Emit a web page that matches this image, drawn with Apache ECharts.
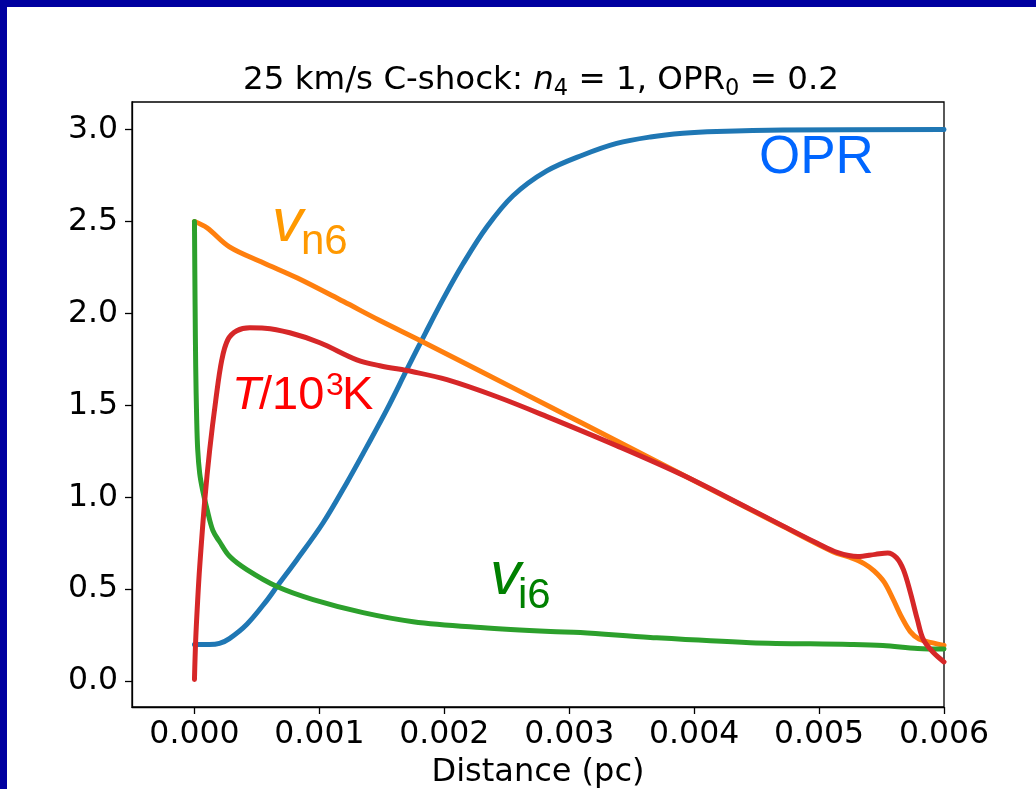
<!DOCTYPE html>
<html><head><meta charset="utf-8">
<script src="https://cdn.jsdelivr.net/npm/echarts@6/dist/echarts.min.js"></script>
<style>html,body{margin:0;padding:0;background:#fff}#c{width:1036px;height:789px}</style>
</head><body><div id="c"></div>
<script>
// ---- data (distance in pc) ----
const oprX = [0, 0.00012, 0.0002, 0.00028, 0.00042, 0.00058, 0.00066, 0.00082, 0.00103, 0.00122, 0.00138, 0.00154, 0.0017, 0.00185, 0.002, 0.00215, 0.00234, 0.00255, 0.00282, 0.00311, 0.00338, 0.00365, 0.00391, 0.00418, 0.00471, 0.006];
const oprY = [0.2, 0.2, 0.206, 0.232, 0.31, 0.44, 0.515, 0.661, 0.862, 1.08, 1.276, 1.477, 1.694, 1.895, 2.09, 2.27, 2.47, 2.64, 2.775, 2.862, 2.925, 2.96, 2.98, 2.99, 2.998, 3.0];

const vnX = [0, 0.0001, 0.00028, 0.00055, 0.00082, 0.00119, 0.00148, 0.00181, 0.00229, 0.00285, 0.00309, 0.00365, 0.00418, 0.00471, 0.00511, 0.00525, 0.00536, 0.00544, 0.00552, 0.00559, 0.00566, 0.00573, 0.0058, 0.0059, 0.006];
const vnY = [2.5, 2.466, 2.362, 2.276, 2.194, 2.066, 1.963, 1.852, 1.686, 1.491, 1.408, 1.213, 1.027, 0.843, 0.705, 0.673, 0.64, 0.6, 0.54, 0.45, 0.35, 0.27, 0.23, 0.21, 0.195];

const viX = [0, 0.000005, 0.00001, 0.000018, 0.000026, 0.000042, 0.000065, 0.000099, 0.000147, 0.0002, 0.000283, 0.000419, 0.00066, 0.00095, 0.00135, 0.00175, 0.00229, 0.00285, 0.00309, 0.00365, 0.00445, 0.00525, 0.00551, 0.00579, 0.006];
const viY = [2.5, 2.05, 1.71, 1.42, 1.26, 1.13, 1.04, 0.94, 0.82, 0.76, 0.678, 0.607, 0.515, 0.444, 0.373, 0.324, 0.292, 0.27, 0.265, 0.238, 0.21, 0.2, 0.194, 0.178, 0.175];

const tX = [0, 0.00001, 0.000026, 0.000042, 0.000083, 0.000122, 0.000171, 0.000219, 0.000267, 0.000339, 0.000443, 0.000563, 0.000763, 0.001004, 0.0013, 0.001484, 0.001749, 0.002021, 0.002422, 0.002822, 0.003383, 0.003912, 0.004449, 0.004986, 0.00515, 0.00531, 0.00545, 0.00555, 0.00562, 0.005675, 0.005731, 0.005787, 0.005835, 0.005915, 0.006];
const tY = [0.01, 0.227, 0.444, 0.623, 0.988, 1.259, 1.531, 1.748, 1.857, 1.906, 1.922, 1.92, 1.895, 1.841, 1.748, 1.716, 1.683, 1.64, 1.547, 1.439, 1.28, 1.12, 0.936, 0.75, 0.699, 0.678, 0.69, 0.698, 0.672, 0.607, 0.482, 0.335, 0.226, 0.156, 0.105];

const xTicks = [0, 0.001, 0.002, 0.003, 0.004, 0.005, 0.006];
const yTicks = [0, 0.5, 1.0, 1.5, 2.0, 2.5, 3.0];

const zip = (xs, ys) => xs.map((x, i) => [x, ys[i]]);

const chart = echarts.init(document.getElementById('c'), null, {renderer: 'canvas'});
const FONT = 'DejaVu Sans';
const AF = 'Liberation Sans';

function lineSeries(name, xs, ys, color) {
  return {
    name, type: 'line', data: zip(xs, ys), showSymbol: false, symbol: 'none',
    smooth: 0.35, clip: true,
    lineStyle: {color, width: 5, cap: 'round', join: 'round'},
    emphasis: {disabled: true}
  };
}

function t(text, x, baseline, size, color, italic) {
  return {
    type: 'text', z: 100,
    style: {
      text, x, y: baseline - 0.346 * size,
      font: (italic ? 'italic ' : '') + size + 'px "' + AF + '"',
      fill: color, verticalAlign: 'middle', align: 'left'
    }
  };
}

const option = {
  animation: false,
  backgroundColor: '#fff',
  title: {
    text: '{m|25 km/s C-shock: }{i|n}{s|4}{m| = 1, OPR}{s|0}{m| = 0.2}',
    left: 536, top: 56, textAlign: 'center',
    textStyle: {
      fontFamily: FONT, fontSize: 32.5, fontWeight: 'normal', color: '#000', lineHeight: 40,
      rich: {
        m: {fontFamily: FONT, fontSize: 32.5, color: '#000', lineHeight: 40},
        i: {fontFamily: FONT, fontSize: 32.5, fontStyle: 'italic', color: '#000', lineHeight: 40},
        s: {fontFamily: FONT, fontSize: 22.5, color: '#000', lineHeight: 20, verticalAlign: 'bottom'}
      }
    }
  },
  grid: {left: 132, top: 102, width: 812, height: 605, show: true, borderColor: '#000', borderWidth: 1.3, backgroundColor: '#fff', outerBoundsMode: 'none', containLabel: false},
  xAxis: {
    type: 'value', min: -0.0005, max: 0.006,
    axisLine: {show: true, onZero: false, lineStyle: {color: '#000', width: 1.3}},
    axisTick: {show: true, length: 7, lineStyle: {color: '#000', width: 1.3}, customValues: xTicks},
    axisLabel: {customValues: xTicks, formatter: v => v.toFixed(3), fontFamily: FONT, fontSize: 31.5, color: '#000', margin: 12},
    splitLine: {show: false},
    name: 'Distance (pc)', nameLocation: 'middle', nameGap: 50,
    nameTextStyle: {fontFamily: FONT, fontSize: 32, color: '#000'}
  },
  yAxis: {
    type: 'value', min: -0.14, max: 3.15,
    axisLine: {show: true, onZero: false, lineStyle: {color: '#000', width: 1.3}},
    axisTick: {show: true, length: 7, lineStyle: {color: '#000', width: 1.3}, customValues: yTicks},
    axisLabel: {customValues: yTicks, formatter: v => v.toFixed(1), fontFamily: FONT, fontSize: 31.5, color: '#000', margin: 14},
    splitLine: {show: false}
  },
  series: [
    lineSeries('OPR', oprX, oprY, '#1f77b4'),
    lineSeries('vn6', vnX, vnY, '#ff7f0e'),
    lineSeries('vi6', viX, viY, '#2ca02c'),
    lineSeries('T', tX, tY, '#d62728')
  ],
  graphic: [
    {type: 'rect', z: 200, shape: {x: 0, y: 0, width: 1036, height: 7}, style: {fill: '#0000a0'}},
    {type: 'rect', z: 200, shape: {x: 0, y: 0, width: 7, height: 789}, style: {fill: '#0000a0'}},
    t('OPR', 759, 177, 53, '#0066ff', false),
    t('v', 272, 245, 62, '#ff9900', true),
    t('n6', 301, 257, 42, '#ff9900', false),
    t('T', 232, 412, 47, '#ff0000', true),
    t('/10', 259, 412, 47, '#ff0000', false),
    t('3', 326, 397, 32, '#ff0000', false),
    t('K', 342, 412, 47, '#ff0000', false),
    t('v', 490, 598, 62, '#008000', true),
    t('i6', 518, 611, 42, '#008000', false)
  ]
};
chart.setOption(option);
</script></body></html>
